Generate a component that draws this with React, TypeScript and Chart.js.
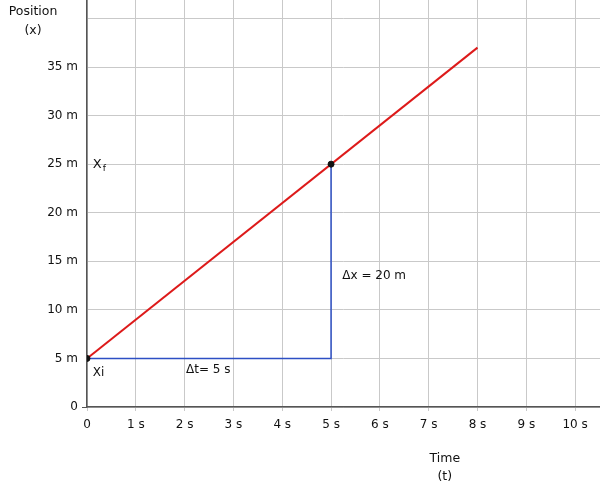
import React, { useEffect, useRef } from "react";
import { Chart, registerables } from "chart.js";

Chart.register(...registerables);

const timeTicks = [0, 1, 2, 3, 4, 5, 6, 7, 8, 9, 10];
const timeTickLabels = ["0", "1 s", "2 s", "3 s", "4 s", "5 s", "6 s", "7 s", "8 s", "9 s", "10 s"];
const positionTicks = [0, 5, 10, 15, 20, 25, 30, 35, 40];
const positionTickLabels = ["0", "5 m", "10 m", "15 m", "20 m", "25 m", "30 m", "35 m", ""];

const motionTimes = [0, 8];
const motionPositions = [5, 37];

const deltaTimes = [0, 5, 5];
const deltaPositions = [5, 5, 25];

const markedTimes = [0, 5];
const markedPositions = [5, 25];

const noteTexts = ["Δt= 5 s", "Δx = 20 m", "Xi"];
const noteTimes = [2.03, 5.23, 0.12];
const notePositions = [3.8, 13.5, 3.5];

const FONT = "'DejaVu Sans', sans-serif";

const textPlugin = {
  id: "texts",
  afterDraw(chart: any) {
    const ctx = chart.ctx as CanvasRenderingContext2D;
    const xs = chart.scales.x;
    const ys = chart.scales.y;
    const area = chart.chartArea;
    ctx.save();
    ctx.fillStyle = "#111";
    ctx.font = `12px ${FONT}`;
    ctx.textBaseline = "middle";
    ctx.textAlign = "left";
    noteTexts.forEach((t, i) => {
      ctx.fillText(t, xs.getPixelForValue(noteTimes[i]), ys.getPixelForValue(notePositions[i]));
    });
    // Xf with subscript
    const fx = xs.getPixelForValue(0.12);
    const fy = ys.getPixelForValue(25);
    ctx.font = `13px ${FONT}`;
    ctx.fillText("X", fx, fy);
    const w = ctx.measureText("X").width;
    ctx.font = `9px ${FONT}`;
    ctx.fillText("f", fx + w + 1, fy + 4);
    // axis titles
    ctx.font = `12.5px ${FONT}`;
    ctx.textAlign = "center";
    ctx.fillText("Position", 33, 12);
    ctx.fillText("(x)", 33, 31);
    const tx = xs.getPixelForValue(7.33);
    ctx.fillText("Time", tx, area.bottom + 52);
    ctx.fillText("(t)", tx, area.bottom + 70);
    ctx.restore();
  },
};

export default function App() {
  const ref = useRef<HTMLCanvasElement | null>(null);
  useEffect(() => {
    document.body.style.margin = "0";
    const canvas = ref.current!;
    const chart = new Chart(canvas, {
      type: "scatter",
      data: {
        datasets: [
          {
            data: markedTimes.map((t, i) => ({ x: t, y: markedPositions[i] })),
            showLine: false,
            pointRadius: 3,
            pointBackgroundColor: "#111",
            pointBorderColor: "#111",
            order: 0,
          },
          {
            data: motionTimes.map((t, i) => ({ x: t, y: motionPositions[i] })),
            showLine: true,
            borderColor: "#dd1a1a",
            borderWidth: 2,
            pointRadius: 0,
            order: 1,
          },
          {
            data: deltaTimes.map((t, i) => ({ x: t, y: deltaPositions[i] })),
            showLine: true,
            borderColor: "#2d4fc4",
            borderWidth: 1.5,
            pointRadius: 0,
            order: 2,
          },
        ],
      },
      options: {
        responsive: false,
        animation: false,
        layout: { padding: 0, autoPadding: false },
        plugins: { legend: { display: false }, tooltip: { enabled: false } },
        scales: {
          x: {
            type: "linear",
            min: 0,
            max: 10.51,
            afterBuildTicks: (s: any) => {
              s.ticks = timeTicks.map((v) => ({ value: v }));
            },
            afterFit: (s: any) => {
              s.height = 86;
              s.paddingLeft = 0;
              s.paddingRight = 0;
              s.paddingTop = 0;
              s.paddingBottom = 0;
            },
            ticks: {
              autoSkip: false,
              maxRotation: 0,
              padding: 7,
              color: "#111",
              font: { family: FONT, size: 12 },
              callback: (v: any) => {
                const i = timeTicks.indexOf(Number(v));
                return i >= 0 ? timeTickLabels[i] : "";
              },
            },
            grid: { color: "#c9c9c9", lineWidth: 1, tickLength: 4, tickColor: "#c9c9c9" },
            border: { color: "#555", width: 1.5 },
          },
          y: {
            type: "linear",
            min: 0,
            max: 41.9,
            afterBuildTicks: (s: any) => {
              s.ticks = positionTicks.map((v) => ({ value: v }));
            },
            afterFit: (s: any) => {
              s.width = 87;
              s.paddingLeft = 0;
              s.paddingRight = 0;
              s.paddingTop = 0;
              s.paddingBottom = 0;
            },
            ticks: {
              autoSkip: false,
              padding: 4,
              color: "#111",
              font: { family: FONT, size: 12 },
              callback: (v: any) => {
                const i = positionTicks.indexOf(Number(v));
                return i >= 0 ? positionTickLabels[i] : "";
              },
            },
            grid: {
              color: "#c9c9c9",
              lineWidth: 1,
              tickLength: 5,
              tickColor: (c: any) => (c.tick && c.tick.value === 0 ? "#555" : "rgba(0,0,0,0)"),
            },
            border: { color: "#555", width: 1.5 },
          },
        },
      },
      plugins: [textPlugin],
    } as any);
    return () => chart.destroy();
  }, []);
  return (
    <div style={{ width: 600, height: 493 }}>
      <canvas ref={ref} width={600} height={493} />
    </div>
  );
}
